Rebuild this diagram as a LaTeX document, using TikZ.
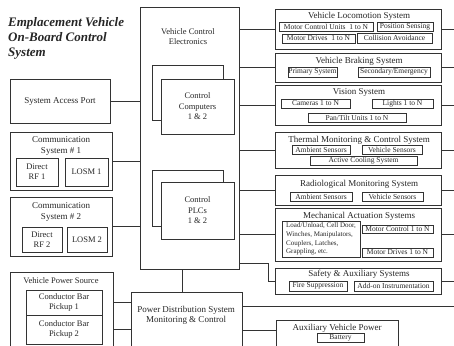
\documentclass[tikz,border=0pt]{standalone}
\usepackage{fontspec}
\setmainfont{Liberation Serif}
\newcommand\fsz[2]{\fontsize{#1}{#2}\selectfont}
\newcommand\rbox[7][]{%
  \node[box,#1,minimum width={(#5-#3)*1pt},minimum height={(#6-#4)*1pt}] (#2) at ({(#3+#5)/2},{(#4+#6)/2}) {#7};}
\begin{document}
\begin{tikzpicture}[x=1pt,y=-1pt,
  box/.style={draw=black!80, line width=0.7pt, inner sep=0.5pt, align=center, text=black!85},
  sub/.style={font=\fsz{7.5}{8.5}},
  lsub/.style={font=\fsz{8.5}{10}},
  ttl/.style={inner sep=0pt, text=black!85, align=center, font=\fsz{9}{10}},
  wire/.style={draw=black!80, line width=0.7pt}]
\fill[white] (0,0) rectangle (454,345);
\useasboundingbox (0,0) rectangle (454,345);

% title
\node[ttl, anchor=north west, align=left, font=\bfseries\itshape\fsz{13}{15}] (title) at (8,17) {Emplacement Vehicle\\On-Board Control\\System};

% Vehicle control electronics
\rbox{vce}{140}{7}{239}{269}{}
\node[ttl, font=\fsz{8.5}{10}] (vcet) at (188,37) {Vehicle Control\\Electronics};
\rbox{ccb}{152}{65}{223}{120}{}
\rbox[fill=white, font=\fsz{8.5}{10.5}]{cc}{161}{79}{234}{134}{Control\\Computers\\1 \& 2}
\rbox{plcb}{152}{170}{223}{226}{}
\rbox[fill=white, font=\fsz{8.5}{10.5}]{plc}{161}{182}{234}{239}{Control\\PLCs\\1 \& 2}

% left side
\rbox[font=\fsz{9}{10}]{sap}{10}{79}{110}{123}{System Access Port}
\rbox{c1}{10}{132}{112}{190}{}
\node[ttl, font=\fsz{9}{10.5}] (c1t) at (61,146) {Communication\\System \# 1};
\rbox[lsub]{c1a}{16}{158}{58}{186}{Direct\\RF 1}
\rbox[lsub]{c1b}{65}{158}{108}{186}{LOSM 1}
\rbox{c2}{10}{197}{112}{256}{}
\node[ttl, font=\fsz{9}{10.5}] (c2t) at (61,212) {Communication\\System \# 2};
\rbox[lsub]{c2a}{22}{227}{62}{252}{Direct\\RF 2}
\rbox[lsub]{c2b}{67}{227}{107}{252}{LOSM 2}
\rbox{vps}{10}{272}{113}{352}{}
\node[ttl, font=\fsz{8.5}{10}] (vpst) at (61,281) {Vehicle Power Source};
\rbox[lsub]{pk1}{26}{290}{102}{315}{Conductor Bar\\Pickup 1}
\rbox[lsub]{pk2}{26}{315}{102}{344}{Conductor Bar\\Pickup 2}

% power distribution
\rbox{pds}{131}{292}{242}{352}{}
\node[ttl] (pdst) at (186,315) {Power Distribution System\\Monitoring \& Control};

% right side
\rbox{loco}{275}{9}{441}{49}{}
\node[ttl] (locot) at (359,16) {Vehicle Locomotion System};
\rbox[sub]{lo1}{279}{22}{373}{31}{Motor Control Units\enspace 1 to N}
\rbox[sub]{lo2}{377}{22}{433}{31}{Position Sensing}
\rbox[sub]{lo3}{282}{34}{355}{43}{Motor Drives\enspace 1 to N}
\rbox[sub]{lo4}{357}{33}{432}{43}{Collision Avoidance}

\rbox{brk}{275}{53}{441}{82}{}
\node[ttl] (brkt) at (359,61) {Vehicle Braking System};
\rbox[sub]{br1}{288}{67}{337}{77}{Primary System}
\rbox[sub]{br2}{358}{67}{430}{77}{Secondary/Emergency}

\rbox{vis}{275}{85}{441}{125}{}
\node[ttl] (vist) at (359,92) {Vision System};
\rbox[sub]{vi1}{281}{99}{350}{108}{Cameras 1 to N}
\rbox[sub]{vi2}{372}{99}{433}{108}{Lights 1 to N}
\rbox[sub]{vi3}{308}{113}{406}{122}{Pan/Tilt Units 1 to N}

\rbox{thm}{275}{132}{441}{168}{}
\node[ttl] (thmt) at (359,140) {Thermal Monitoring \& Control System};
\rbox[sub]{th1}{292}{145}{350}{154}{Ambient Sensors}
\rbox[sub]{th2}{362}{145}{422}{154}{Vehicle Sensors}
\rbox[sub]{th3}{310}{156.5}{417}{165.5}{Active Cooling System}

\rbox{rad}{275}{175}{441}{205}{}
\node[ttl] (radt) at (359,184) {Radiological Monitoring System};
\rbox[sub]{ra1}{290}{192}{352}{201}{Ambient Sensors}
\rbox[sub]{ra2}{362}{192}{423}{201}{Vehicle Sensors}

\rbox{mech}{275}{208}{441}{261}{}
\node[ttl] (mecht) at (359,216) {Mechanical Actuation Systems};
\rbox[font=\fsz{7}{8.8}, align=left]{ma1}{282}{221}{360}{257}{Load/Unload, Cell Door,\\Winches, Manipulators,\\Couplers, Latches,\\Grappling, etc.}
\rbox[sub]{ma2}{362}{225}{433}{233}{Motor Control 1 to N}
\rbox[sub]{ma3}{362}{248}{433}{257}{Motor Drives 1 to N}

\rbox{saf}{275}{268}{441}{294}{}
\node[ttl] (saft) at (359,274) {Safety \& Auxiliary Systems};
\rbox[sub]{sa1}{289}{281}{347}{291}{Fire Suppression}
\rbox[sub]{sa2}{354}{281}{433}{291}{Add-on Instrumentation}

\rbox{aux}{276}{320}{398}{352}{}
\node[ttl] (auxt) at (337,328) {Auxiliary Vehicle Power};
\rbox[sub]{au1}{317}{333}{364}{342}{Battery}

% connectors
\coordinate (redge) at (454,0);
\coordinate (sbend) at (268,263);
\coordinate (pline) at (0,306);
\draw[wire] (sap.east) -- (sap.east -| vce.west);
\draw[wire] (c1.east) -- (c1.east -| vce.west);
\draw[wire] (c2.east) -- (c2.east -| vce.west);
\draw[wire] ([xshift=-7pt]vce.south) -- ([xshift=-7pt]vce.south |- pds.north);
\draw[wire] (pk1.east -| vps.east) -- (pk1.east -| pds.west);
\draw[wire] (pk2.east -| vps.east) -- (pk2.east -| pds.west);
\foreach \r in {loco,brk,vis,thm,rad,mech}{
  \draw[wire] (\r.west -| vce.east) -- (\r.west);
  \draw[wire] (\r.east) -- (\r.east -| redge);
}
\draw[wire] (vce.east |- sbend) -- (sbend) -- (sbend |- saf.west) -- (saf.west);
\draw[wire] (saf.east) -- (saf.east -| redge);
\draw[wire] (pds.east |- pline) -- (redge |- pline);
\draw[wire] ([yshift=6pt]aux.west -| pds.east) -- ([yshift=6pt]aux.west);
\end{tikzpicture}
\end{document}
